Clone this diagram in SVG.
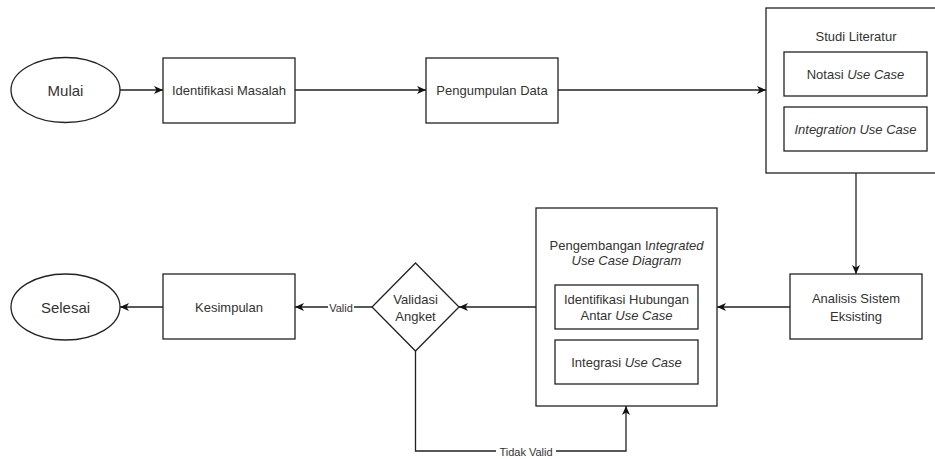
<svg xmlns="http://www.w3.org/2000/svg" width="935" height="459" viewBox="0 0 935 459">
<style>
  .box { fill: #ffffff; stroke: #222; stroke-width: 1.3; }
  .t { font-family: "Liberation Sans", Arial, sans-serif; font-size: 13px; fill: #333; text-anchor: middle; dominant-baseline: central; }
  .big { font-size: 15px; }
  .lbl { font-family: "Liberation Sans", Arial, sans-serif; font-size: 11px; fill: #333; text-anchor: middle; dominant-baseline: central; }
  .it { font-style: italic; }
  .edge { fill: none; stroke: #222; stroke-width: 1.3; }
</style>
<defs>
  <marker id="arr" viewBox="0 0 9 8" refX="9" refY="4" markerWidth="9" markerHeight="8" markerUnits="userSpaceOnUse" orient="auto">
    <path d="M0,0 L9,4 L0,8 L2.5,4 Z" fill="#111"/>
  </marker>
</defs>
<rect width="935" height="459" fill="#ffffff"/>

<g id="connectors">
  <path class="edge" d="M120,90 H163" marker-end="url(#arr)"/>
  <path class="edge" d="M295,90 H426" marker-end="url(#arr)"/>
  <path class="edge" d="M558,90 H766" marker-end="url(#arr)"/>
  <path class="edge" d="M856,173 V274" marker-end="url(#arr)"/>
  <path class="edge" d="M790,307 H717" marker-end="url(#arr)"/>
  <path class="edge" d="M536,307 H459" marker-end="url(#arr)"/>
  <path class="edge" d="M372,307 H295" marker-end="url(#arr)"/>
  <path class="edge" d="M163,307 H120" marker-end="url(#arr)"/>
  <path class="edge" d="M415.5,351 V451 H626 V406" marker-end="url(#arr)"/>
  <g id="label-valid">
    <rect x="328" y="302" width="26" height="12" fill="#ffffff"/>
    <text class="lbl" x="341" y="308">Valid</text>
  </g>
  <g id="label-tidak-valid">
    <rect x="496" y="445" width="60" height="12" fill="#ffffff"/>
    <text class="lbl" x="526" y="452">Tidak Valid</text>
  </g>
</g>

<g id="mulai">
  <ellipse class="box" cx="65.5" cy="90" rx="54.5" ry="32.5"/>
  <text class="t big" x="65.5" y="90">Mulai</text>
</g>

<g id="identifikasi-masalah">
  <rect class="box" x="163" y="58" width="132" height="65"/>
  <text class="t" x="229" y="90">Identifikasi Masalah</text>
</g>

<g id="pengumpulan-data">
  <rect class="box" x="426" y="58" width="132" height="65"/>
  <text class="t" x="492" y="90">Pengumpulan Data</text>
</g>

<g id="studi-literatur">
  <rect class="box" x="766" y="8" width="180" height="165"/>
  <text class="t" x="856" y="36">Studi Literatur</text>
  <g id="notasi-use-case">
    <rect class="box" x="784" y="52" width="143" height="44"/>
    <text class="t" x="855.5" y="74">Notasi <tspan class="it">Use Case</tspan></text>
  </g>
  <g id="integration-use-case">
    <rect class="box" x="784" y="107" width="143" height="44"/>
    <text class="t it" x="855.5" y="129">Integration Use Case</text>
  </g>
</g>

<g id="analisis-sistem">
  <rect class="box" x="790" y="274" width="132" height="65"/>
  <text class="t" x="856" y="298">Analisis Sistem</text>
  <text class="t" x="856" y="316">Eksisting</text>
</g>

<g id="pengembangan">
  <rect class="box" x="536" y="208" width="181" height="198"/>
  <text class="t" x="626.5" y="245">Pengembangan I<tspan class="it">ntegrated</tspan></text>
  <text class="t it" x="626.5" y="260">Use Case Diagram</text>
  <g id="identifikasi-hubungan">
    <rect class="box" x="555" y="285" width="143" height="44"/>
    <text class="t" x="626.5" y="299">Identifikasi Hubungan</text>
    <text class="t" x="626.5" y="315">Antar <tspan class="it">Use Case</tspan></text>
  </g>
  <g id="integrasi-use-case">
    <rect class="box" x="555" y="340" width="143" height="44"/>
    <text class="t" x="626.5" y="362">Integrasi <tspan class="it">Use Case</tspan></text>
  </g>
</g>

<g id="validasi-angket">
  <polygon class="box" points="415.5,263 459,307 415.5,351 372,307"/>
  <text class="t" x="415.5" y="299">Validasi</text>
  <text class="t" x="415.5" y="316">Angket</text>
</g>

<g id="kesimpulan">
  <rect class="box" x="163" y="274" width="132" height="65"/>
  <text class="t" x="229" y="307">Kesimpulan</text>
</g>

<g id="selesai">
  <ellipse class="box" cx="65.5" cy="307" rx="54.5" ry="33"/>
  <text class="t big" x="65.5" y="307">Selesai</text>
</g>
</svg>
